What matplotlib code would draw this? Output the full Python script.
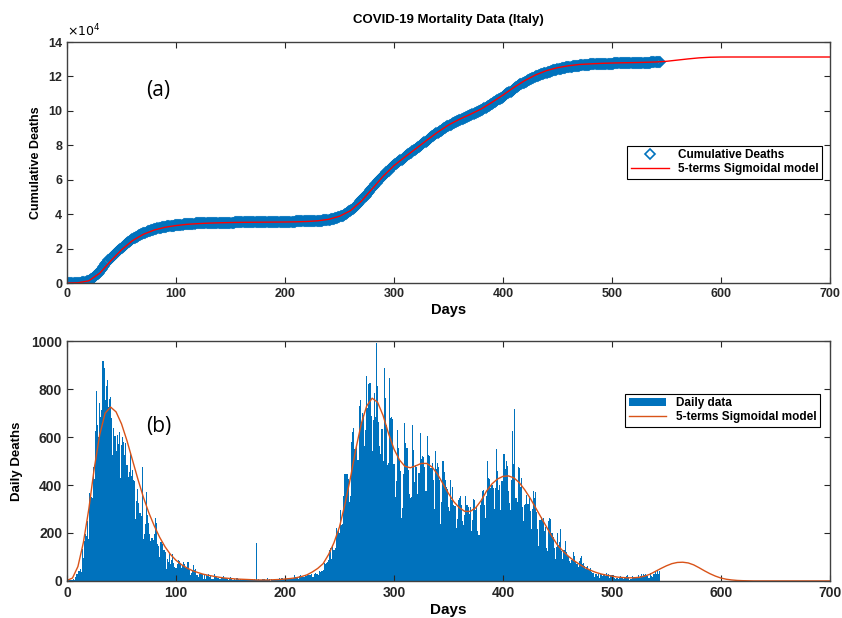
import numpy as np
import matplotlib.pyplot as plt

# daily deaths, day 0 .. 544
daily_deaths = [
    0, 7, 3, 2, 5, 4, 8, 5, 18, 27,
    28, 41, 49, 36, 133, 97, 168, 196, 189, 250,
    175, 368, 349, 345, 475, 427, 627, 793, 651, 601,
    743, 683, 712, 919, 889, 756, 812, 837, 727, 760,
    766, 681, 525, 636, 604, 542, 610, 570, 619, 431,
    566, 602, 578, 525, 575, 482, 433, 454, 534, 437,
    464, 420, 415, 260, 333, 382, 323, 285, 269, 474,
    174, 195, 236, 369, 274, 243, 194, 165, 179, 172,
    195, 262, 242, 153, 145, 99, 162, 161, 156, 130,
    119, 50, 92, 78, 117, 70, 87, 111, 75, 60,
    55, 71, 88, 85, 72, 53, 65, 79, 71, 53,
    56, 78, 44, 26, 34, 43, 66, 47, 49, 24,
    23, 18, 30, 30, 30, 8, 24, 6, 23, 21,
    30, 15, 21, 7, 8, 30, 17, 15, 12, 12,
    7, 9, 13, 17, 20, 11, 14, 9, 3, 13,
    15, 10, 5, 5, 8, 5, 11, 6, 3, 9,
    5, 4, 5, 4, 6, 10, 6, 3, 2, 4,
    6, 5, 7, 3, 158, 4, 7, 4, 5, 6,
    7, 9, 5, 4, 13, 5, 9, 1, 9, 4,
    6, 8, 6, 10, 10, 11, 7, 12, 14, 10,
    10, 10, 6, 7, 9, 14, 10, 9, 14, 24,
    15, 14, 9, 20, 24, 20, 17, 17, 17, 24,
    19, 23, 24, 24, 27, 17, 16, 28, 31, 28,
    29, 26, 41, 39, 43, 47, 73, 69, 73, 79,
    89, 127, 136, 91, 151, 128, 136, 221, 205, 217,
    199, 297, 233, 236, 353, 445, 445, 446, 425, 331,
    356, 580, 623, 636, 550, 546, 564, 504, 731, 753,
    653, 699, 692, 562, 630, 853, 722, 822, 827, 686,
    541, 672, 785, 684, 993, 814, 662, 564, 528, 634,
    499, 887, 761, 649, 484, 491, 846, 680, 683, 674,
    486, 352, 415, 628, 553, 505, 459, 261, 305, 445,
    659, 575, 555, 462, 364, 347, 348, 649, 548, 414,
    483, 475, 361, 448, 616, 507, 522, 517, 475, 377,
    377, 603, 524, 521, 472, 492, 420, 299, 541, 467,
    492, 477, 421, 237, 329, 499, 456, 421, 391, 385,
    307, 292, 422, 336, 391, 316, 311, 221, 258, 336,
    347, 353, 316, 251, 232, 274, 356, 318, 308, 280,
    307, 207, 255, 343, 339, 297, 307, 207, 190, 318,
    332, 373, 380, 317, 264, 354, 502, 431, 423, 386,
    401, 386, 300, 386, 551, 460, 380, 401, 297, 417,
    417, 529, 467, 501, 481, 376, 326, 296, 421, 627,
    487, 718, 344, 331, 476, 469, 390, 429, 310, 251,
    316, 322, 360, 319, 344, 293, 217, 301, 373, 344,
    371, 288, 217, 144, 256, 267, 251, 263, 207, 224,
    139, 125, 251, 262, 258, 201, 182, 136, 93, 140,
    201, 149, 164, 218, 125, 92, 130, 166, 121, 106,
    103, 85, 74, 89, 93, 122, 105, 79, 71, 56,
    85, 97, 102, 72, 76, 62, 48, 56, 63, 47,
    52, 37, 31, 35, 17, 28, 30, 21, 27, 14,
    28, 21, 24, 28, 21, 31, 21, 27, 14, 24,
    25, 24, 13, 9, 12, 13, 7, 16, 21, 15,
    13, 7, 11, 22, 23, 15, 5, 7, 7, 22,
    15, 17, 18, 15, 23, 12, 21, 27, 20, 30,
    24, 27, 24, 22, 14, 31, 21, 17, 28, 27,
    40, 27, 45, 28, 42,
]
days = np.arange(len(daily_deaths))
cum_deaths = np.cumsum(daily_deaths)

# 5-terms sigmoidal model, daily rate, every 5 days from 0 to 700
model_days = np.arange(0, 701, 5)
model_daily = [
    2, 12, 60, 160, 300, 470, 610, 700, 725, 705,
    655, 585, 505, 425, 350, 285, 230, 182, 142, 110,
    86, 68, 54, 43, 35, 28, 23, 19, 15, 12,
    10, 8, 7, 6, 5, 4, 4, 4, 5, 6,
    8, 10, 13, 18, 25, 37, 52, 72, 110, 160,
    225, 320, 428, 550, 655, 730, 762, 745, 690, 615,
    550, 505, 478, 472, 480, 490, 490, 475, 445, 405,
    365, 330, 305, 290, 290, 305, 335, 375, 405, 425,
    436, 438, 430, 410, 380, 345, 305, 265, 225, 185,
    150, 125, 103, 85, 70, 56, 45, 36, 29, 24,
    20, 16, 14, 13, 13, 15, 20, 28, 40, 52,
    63, 72, 77, 78, 75, 67, 55, 42, 30, 20,
    12, 7, 4, 2, 1, 0.5, 0, 0, 0, 0,
    0, 0, 0, 0, 0, 0, 0, 0, 0, 0,
    0,
]

# same model, cumulative, every 10 days from 0 to 700
model_cum_days = np.arange(0, 701, 10)
model_cum = [
    0, 150, 1300, 5700, 12800, 19300, 24600, 28300, 30800, 32400,
    33400, 34100, 34500, 34800, 35000, 35150, 35250, 35300, 35350, 35400,
    35450, 35550, 35750, 36150, 37000, 38800, 42000, 47500, 54700, 62000,
    68200, 73200, 78000, 82900, 87600, 91800, 95100, 98000, 101100, 105000,
    109200, 113600, 117600, 120900, 123400, 125100, 126200, 126950, 127300, 127600,
    127800, 127950, 128050, 128200, 128400, 128800, 129500, 130200, 130800, 131150,
    131280, 131300, 131300, 131300, 131300, 131300, 131300, 131300, 131300, 131300,
    131300,
]

blue = "#0072BD"
orange = "#D95319"
plt.rcParams["font.family"] = ["Liberation Sans", "DejaVu Sans"]

fig = plt.figure(figsize=(8.42, 6.18), dpi=100)
ax1 = fig.add_axes([0.0796, 0.542, 0.906, 0.390])
ax2 = fig.add_axes([0.0796, 0.060, 0.906, 0.388])

# (a) cumulative
ax1.plot(days, cum_deaths, linestyle="none", marker="D", markersize=5.5,
         markerfacecolor="none", markeredgecolor=blue, markeredgewidth=1.2,
         label="Cumulative Deaths")
ax1.plot(model_cum_days, model_cum, color="red", linewidth=1.0,
         label="5-terms Sigmoidal model")
ax1.set_xlim(0, 700)
ax1.set_ylim(0, 140000)
ax1.set_xticks(np.arange(0, 701, 100))
ax1.set_yticks(np.arange(0, 140001, 20000))
ax1.set_yticklabels([str(v) for v in range(0, 15, 2)])
ax1.text(0.0, 1.01, r"$\times10^4$", transform=ax1.transAxes, fontsize=9,
         ha="left", va="bottom")
ax1.set_title("COVID-19 Mortality Data (Italy)", fontsize=9.5,
              fontweight="bold", pad=14)
ax1.set_xlabel("Days", fontsize=10.5, fontweight="bold", labelpad=2)
ax1.set_ylabel("Cumulative Deaths", fontsize=9, fontweight="bold", labelpad=4)
ax1.text(0.12, 0.80, "(a)", transform=ax1.transAxes, fontsize=15,
         family=["Open Sans", "DejaVu Sans"], ha="center", va="center")
leg1 = ax1.legend(loc="upper right", bbox_to_anchor=(0.99, 0.57),
                  prop={"weight": "bold", "size": 8.5}, fancybox=False,
                  edgecolor="black", framealpha=1, borderaxespad=0,
                  handlelength=3.2, borderpad=0.3, labelspacing=0.15)
leg1.get_frame().set_linewidth(0.8)

# (b) daily
bars = ax2.bar(days, daily_deaths, width=1.0, color=blue, linewidth=0,
               label="Daily data")
line, = ax2.plot(model_days, model_daily, color=orange, linewidth=1.0,
                 label="5-terms Sigmoidal model")
ax2.set_xlim(0, 700)
ax2.set_ylim(0, 1000)
ax2.set_xticks(np.arange(0, 701, 100))
ax2.set_yticks(np.arange(0, 1001, 200))
ax2.set_xlabel("Days", fontsize=11, fontweight="bold", labelpad=2)
ax2.set_ylabel("Daily Deaths", fontsize=9.5, fontweight="bold", labelpad=6)
ax2.text(0.12, 0.645, "(b)", transform=ax2.transAxes, fontsize=15,
         family=["Open Sans", "DejaVu Sans"], ha="center", va="center")
leg2 = ax2.legend([bars, line], ["Daily data", "5-terms Sigmoidal model"],
                  loc="upper right", bbox_to_anchor=(0.987, 0.78),
                  prop={"weight": "bold", "size": 8.5}, fancybox=False,
                  edgecolor="black", framealpha=1, borderaxespad=0,
                  handlelength=3.2, borderpad=0.3, labelspacing=0.15)
leg2.get_frame().set_linewidth(0.8)

for ax, size in ((ax1, 9), (ax2, 10)):
    for s in ax.spines.values():
        s.set_color("0.25")
        s.set_linewidth(1.0)
    ax.tick_params(direction="in", length=4, width=0.8, top=True, right=True,
                   labelsize=size, colors="0.15")
    for lab in ax.get_xticklabels() + ax.get_yticklabels():
        lab.set_fontweight("bold")

fig.savefig("out.png", dpi=100)
